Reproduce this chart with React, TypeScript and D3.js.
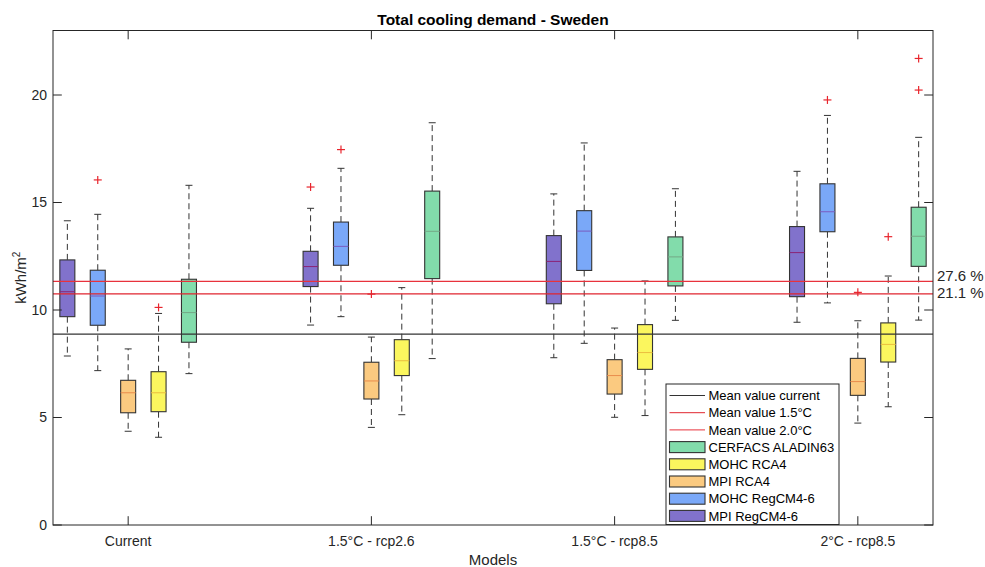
import React from "react";
import * as d3 from "d3";

const groups = ["Current", "1.5°C - rcp2.6", "1.5°C - rcp8.5", "2°C - rcp8.5"];
const models = ["MPI RegCM4-6", "MOHC RegCM4-6", "MPI RCA4", "MOHC RCA4", "CERFACS ALADIN63"];
const modelColors = ["#8172cc", "#7aa8f8", "#fbca80", "#fbf65e", "#82dcab"];
const medianColors = ["#8a2476", "#7a5cc0", "#e98c4c", "#ebbd3e", "#74a886"];

// values indexed [model][group]
const whiskerLow = [
  [7.86, 9.3, 7.78, 9.43],
  [7.18, 9.69, 8.45, 10.33],
  [4.36, 4.54, 5.01, 4.74],
  [4.08, 5.13, 5.09, 5.5],
  [7.04, 7.74, 9.52, 9.53],
];
const q1 = [
  [9.69, 11.09, 10.29, 10.62],
  [9.29, 12.08, 11.84, 13.64],
  [5.22, 5.86, 6.09, 6.03],
  [5.27, 6.95, 7.24, 7.58],
  [8.5, 11.46, 11.12, 12.03],
];
const median = [
  [10.85, 12.02, 12.26, 12.67],
  [10.65, 12.96, 13.67, 14.57],
  [6.15, 6.7, 6.95, 6.67],
  [6.15, 7.64, 8.02, 8.4],
  [9.88, 13.66, 12.47, 13.43],
];
const q3 = [
  [12.33, 12.73, 13.46, 13.88],
  [11.85, 14.09, 14.62, 15.87],
  [6.73, 7.57, 7.69, 7.75],
  [7.13, 8.62, 9.32, 9.4],
  [11.43, 15.53, 13.4, 14.78],
];
const whiskerHigh = [
  [14.15, 14.73, 15.4, 16.45],
  [14.45, 16.59, 17.77, 19.05],
  [8.19, 8.74, 9.16, 9.5],
  [9.84, 11.04, 11.35, 11.58],
  [15.8, 18.71, 15.64, 18.03],
];
const outliers: number[][][] = [
  [[], [15.72], [], []],
  [[16.05], [17.46], [], [19.77]],
  [[], [10.74], [], [10.82]],
  [[10.12], [], [], [13.41]],
  [[], [], [], [21.7, 20.23]],
];

const meanLineNames = ["Mean value current", "Mean value 1.5°C", "Mean value 2.0°C"];
const meanLineValues = [8.88, 10.75, 11.33];
const meanLineColors = ["#333333", "#e0252f", "#e8323c"];
const meanLineLabels = ["", "21.1 %", "27.6 %"];

const yTicks = [0, 5, 10, 15, 20];

const W = 985;
const H = 567;
const L = 53, R = 933, T = 30.5, B = 525;
const FONT = "'Liberation Sans', Arial, Helvetica, sans-serif";

export default function App() {
  const x = d3.scaleLinear().domain([0.691, 4.309]).range([L, R]);
  const off = d3.scaleLinear().domain([0, models.length - 1]).range([-0.25, 0.25]);
  const y = d3.scaleLinear().domain([0, 23]).range([B, T]);
  const boxW = 15;
  const capW = 7;
  const tickLen = 8.8;

  const boxes: any[] = [];
  models.forEach((m, mi) => {
    groups.forEach((g, gi) => {
      const cx = x(gi + 1 + off(mi));
      boxes.push({ mi, gi, cx });
    });
  });

  const legendRows = [
    ...meanLineNames.map((n, i) => ({ type: "line", label: n, color: meanLineColors[i] })),
    ...models
      .map((n, i) => ({ type: "box", label: n, color: modelColors[i] }))
      .reverse(),
  ];
  const legX = 666, legY = 384, legW = 173, legH = 140.5;

  return (
    <svg
      width={W}
      height={H}
      style={{ position: "absolute", left: 0, top: 0, background: "#fff" }}
      fontFamily={FONT}
    >
      <rect x={0} y={0} width={W} height={H} fill="#fff" />
      <rect x={L} y={T} width={R - L} height={B - T} fill="#fff" />

      {/* boxes */}
      {boxes.map(({ mi, gi, cx }) => {
        const lo = whiskerLow[mi][gi], a = q1[mi][gi], md = median[mi][gi], b = q3[mi][gi], hi = whiskerHigh[mi][gi];
        return (
          <g key={`b${mi}-${gi}`}>
            <line x1={cx} x2={cx} y1={y(b)} y2={y(hi)} stroke="#333" strokeWidth={1} strokeDasharray="6,4" />
            <line x1={cx} x2={cx} y1={y(a)} y2={y(lo)} stroke="#333" strokeWidth={1} strokeDasharray="6,4" />
            <line x1={cx - capW / 2} x2={cx + capW / 2} y1={y(hi)} y2={y(hi)} stroke="#333" strokeWidth={1} />
            <line x1={cx - capW / 2} x2={cx + capW / 2} y1={y(lo)} y2={y(lo)} stroke="#333" strokeWidth={1} />
            <rect
              x={cx - boxW / 2}
              y={y(b)}
              width={boxW}
              height={y(a) - y(b)}
              fill={modelColors[mi]}
              stroke="#333"
              strokeWidth={1.1}
            />
            <line x1={cx - boxW / 2} x2={cx + boxW / 2} y1={y(md)} y2={y(md)} stroke={medianColors[mi]} strokeWidth={1} />
            {outliers[mi][gi].map((o, k) => (
              <g key={k} stroke="#e8252d" strokeWidth={1.2}>
                <line x1={cx - 4} x2={cx + 4} y1={y(o)} y2={y(o)} />
                <line x1={cx} x2={cx} y1={y(o) - 4} y2={y(o) + 4} />
              </g>
            ))}
          </g>
        );
      })}

      {/* mean lines */}
      {meanLineValues.map((v, i) => (
        <line
          key={`m${i}`}
          x1={L}
          x2={R}
          y1={y(v)}
          y2={y(v)}
          stroke={meanLineColors[i]}
          strokeWidth={i === 0 ? 1.1 : 1.3}
        />
      ))}
      {meanLineLabels.map((t, i) =>
        t ? (
          <text
            key={`ml${i}`}
            x={R + 4}
            y={y(meanLineValues[i]) + (i === 2 ? -0.5 : 4.5)}
            fontSize={15}
            fill="#262626"
          >
            {t}
          </text>
        ) : null
      )}

      {/* axes frame */}
      <rect x={L} y={T} width={R - L} height={B - T} fill="none" stroke="#262626" strokeWidth={1} />
      {yTicks.map((t) => (
        <g key={`yt${t}`}>
          <line x1={L} x2={L + tickLen} y1={y(t)} y2={y(t)} stroke="#262626" />
          <line x1={R} x2={R - tickLen} y1={y(t)} y2={y(t)} stroke="#262626" />
          <text x={L - 6} y={y(t)} dy="0.35em" textAnchor="end" fontSize={14} fill="#262626">
            {t}
          </text>
        </g>
      ))}
      {groups.map((g, gi) => (
        <g key={`xt${gi}`}>
          <line x1={x(gi + 1)} x2={x(gi + 1)} y1={B} y2={B - tickLen} stroke="#262626" />
          <line x1={x(gi + 1)} x2={x(gi + 1)} y1={T} y2={T + tickLen} stroke="#262626" />
          <text x={x(gi + 1)} y={546} textAnchor="middle" fontSize={14} fill="#262626">
            {g}
          </text>
        </g>
      ))}

      {/* labels */}
      <text x={(L + R) / 2} y={25} textAnchor="middle" fontSize={15.5} fontWeight="bold" fill="#000">
        Total cooling demand - Sweden
      </text>
      <text x={(L + R) / 2} y={565} textAnchor="middle" fontSize={15} fill="#262626">
        Models
      </text>
      <text
        transform={`translate(26,${(T + B) / 2}) rotate(-90)`}
        textAnchor="middle"
        fontSize={15}
        fill="#262626"
      >
        kWh/m<tspan dy={-6} fontSize={10}>2</tspan>
      </text>

      {/* legend */}
      <rect x={legX} y={legY} width={legW} height={legH} fill="#fff" stroke="#262626" strokeWidth={1} />
      {legendRows.map((r, i) => {
        const cy = 395.5 + i * 17.2;
        return (
          <g key={`lg${i}`}>
            {r.type === "line" ? (
              <line x1={669.5} x2={705} y1={cy} y2={cy} stroke={r.color} strokeWidth={1} />
            ) : (
              <rect x={669.5} y={cy - 5.5} width={35.5} height={11} fill={r.color} stroke="#333" strokeWidth={1.1} />
            )}
            <text x={708.5} y={cy} dy="0.36em" fontSize={13} fill="#000">
              {r.label}
            </text>
          </g>
        );
      })}
    </svg>
  );
}
